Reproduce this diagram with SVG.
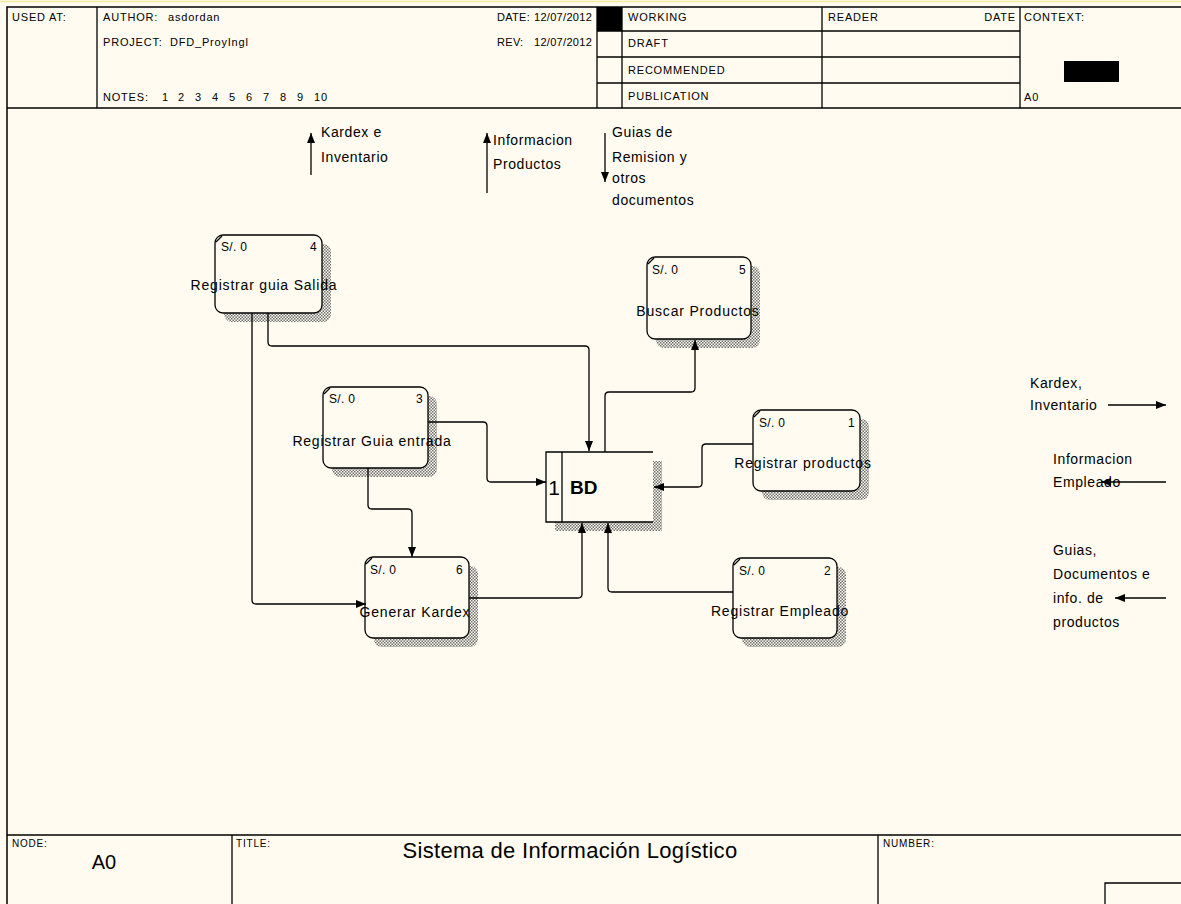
<svg xmlns="http://www.w3.org/2000/svg" width="1181" height="904" viewBox="0 0 1181 904">
<style>
.hdr{font-family:"Liberation Sans",Arial,sans-serif;font-size:11px;letter-spacing:0.8px;fill:#000}
.lbl{font-family:"Liberation Sans",Arial,sans-serif;font-size:14px;letter-spacing:0.8px;fill:#000}
.ext{font-family:"Liberation Sans",Arial,sans-serif;font-size:14px;letter-spacing:0.6px;fill:#000}
.sm{font-family:"Liberation Sans",Arial,sans-serif;font-size:12px;letter-spacing:0.3px;fill:#000}
.ln{stroke:#000;stroke-width:1.3;fill:none}
.frame{stroke:#000;stroke-width:1.5;fill:none}
.box{fill:#fffbf0;stroke:#000;stroke-width:1.3}
.shadow{fill:url(#hatch);stroke:none}
.conn{stroke:#000;stroke-width:1.3;fill:none;marker-end:url(#arr)}
</style>
<defs>
<pattern id="hatch" width="3" height="3" patternUnits="userSpaceOnUse">
<rect width="3" height="3" fill="#fffbf0"/>
<rect x="0" y="0" width="1.5" height="1.5" fill="#707070"/>
<rect x="1.5" y="1.5" width="1.5" height="1.5" fill="#707070"/>
</pattern>
<marker id="arr" markerWidth="11" markerHeight="8" refX="10" refY="4" orient="auto" markerUnits="userSpaceOnUse">
<path d="M0,0 L10,4 L0,8 z" fill="#000"/>
</marker>
</defs>
<rect width="1181" height="904" fill="#fffbf0"/>
<line x1="0" y1="1.5" x2="1181" y2="1.5" stroke="#f3ea9a" stroke-width="1.5"/>

<g id="header">
<path class="frame" d="M7,904 V7 H1182"/>
<line class="frame" x1="7" y1="108" x2="1182" y2="108"/>
<line class="ln" x1="97" y1="7" x2="97" y2="108"/>
<line class="ln" x1="597" y1="7" x2="597" y2="108"/>
<line class="ln" x1="622" y1="7" x2="622" y2="108"/>
<line class="ln" x1="822" y1="7" x2="822" y2="108"/>
<line class="ln" x1="1020" y1="7" x2="1020" y2="108"/>
<line class="ln" x1="597" y1="31" x2="1020" y2="31"/>
<line class="ln" x1="597" y1="57" x2="1020" y2="57"/>
<line class="ln" x1="597" y1="83" x2="1020" y2="83"/>
<rect x="597" y="7" width="25" height="24" fill="#000"/>
<rect x="1064" y="61" width="55" height="21" fill="#000"/>
<text class="hdr" x="12" y="21">USED AT:</text>
<text class="hdr" x="103" y="21">AUTHOR:<tspan x="168">asdordan</tspan></text>
<text class="hdr" x="103" y="46">PROJECT:<tspan x="170">DFD_ProyIngl</tspan></text>
<text class="hdr" x="103" y="101">NOTES:<tspan x="162">1</tspan><tspan x="178">2</tspan><tspan x="195">3</tspan><tspan x="212">4</tspan><tspan x="229">5</tspan><tspan x="246">6</tspan><tspan x="263">7</tspan><tspan x="280">8</tspan><tspan x="297">9</tspan><tspan x="314">10</tspan></text>
<text class="hdr" x="497" y="21" style="letter-spacing:0.3px">DATE:<tspan x="534">12/07/2012</tspan></text>
<text class="hdr" x="497" y="46" style="letter-spacing:0.3px">REV:<tspan x="534">12/07/2012</tspan></text>
<text class="hdr" x="628" y="21">WORKING</text>
<text class="hdr" x="628" y="47">DRAFT</text>
<text class="hdr" x="628" y="74">RECOMMENDED</text>
<text class="hdr" x="628" y="100">PUBLICATION</text>
<text class="hdr" x="828" y="21">READER</text>
<text class="hdr" x="1016" y="21" text-anchor="end">DATE</text>
<text class="hdr" x="1024" y="21">CONTEXT:</text>
<text class="hdr" x="1024" y="101">A0</text>
</g>

<g id="footer">
<line class="frame" x1="7" y1="835" x2="1182" y2="835"/>
<line class="ln" x1="232" y1="835" x2="232" y2="904"/>
<line class="ln" x1="878" y1="835" x2="878" y2="904"/>
<path class="ln" d="M1105,904 V883 H1182"/>
<text class="hdr" x="12" y="847" style="font-size:10px">NODE:</text>
<text class="hdr" x="236" y="847" style="font-size:10px">TITLE:</text>
<text class="hdr" x="883" y="847" style="font-size:10px">NUMBER:</text>
<text x="104" y="869" text-anchor="middle" style="font-family:'Liberation Sans',Arial,sans-serif;font-size:20px;fill:#000">A0</text>
<text x="570" y="858" text-anchor="middle" style="font-family:'Liberation Sans',Arial,sans-serif;font-size:22px;letter-spacing:0.3px;fill:#000">Sistema de Información Logístico</text>
</g>

<g id="ext-labels">
<text class="ext" x="321" y="137">Kardex e</text>
<text class="ext" x="321" y="162">Inventario</text>
<text class="ext" x="493" y="145">Informacion</text>
<text class="ext" x="493" y="169">Productos</text>
<text class="ext" x="612" y="137">Guias de</text>
<text class="ext" x="612" y="162">Remision y</text>
<text class="ext" x="612" y="183">otros</text>
<text class="ext" x="612" y="205">documentos</text>
<text class="ext" x="1030" y="388">Kardex,</text>
<text class="ext" x="1030" y="410">Inventario</text>
<text class="ext" x="1053" y="464">Informacion</text>
<text class="ext" x="1053" y="487">Empleado</text>
<text class="ext" x="1053" y="555">Guias,</text>
<text class="ext" x="1053" y="579">Documentos e</text>
<text class="ext" x="1053" y="603">info. de</text>
<text class="ext" x="1053" y="627">productos</text>
</g>

<g id="node4">
<rect class="shadow" x="224" y="244" width="107" height="78" rx="8"/>
<rect class="box" x="215" y="235" width="107" height="78" rx="8"/>
<path class="ln" d="M216,242 L222,236"/>
<text class="sm" x="221" y="251">S/. 0</text>
<text class="sm" x="317" y="251" text-anchor="end">4</text>
<text class="lbl" x="264" y="290" text-anchor="middle">Registrar guia Salida</text>
</g>

<g id="node3">
<rect class="shadow" x="332" y="396" width="105" height="81" rx="8"/>
<rect class="box" x="323" y="387" width="105" height="81" rx="8"/>
<path class="ln" d="M324,394 L330,388"/>
<text class="sm" x="329" y="403">S/. 0</text>
<text class="sm" x="423" y="403" text-anchor="end">3</text>
<text class="lbl" x="372" y="446" text-anchor="middle">Registrar Guia entrada</text>
</g>

<g id="node6">
<rect class="shadow" x="374" y="566" width="104" height="81" rx="8"/>
<rect class="box" x="365" y="557" width="104" height="81" rx="8"/>
<path class="ln" d="M366,564 L372,558"/>
<text class="sm" x="370" y="574">S/. 0</text>
<text class="sm" x="463" y="574" text-anchor="end">6</text>
<text class="lbl" x="415" y="617" text-anchor="middle">Generar Kardex</text>
</g>

<g id="node5">
<rect class="shadow" x="656" y="266" width="104" height="82" rx="8"/>
<rect class="box" x="647" y="257" width="104" height="82" rx="8"/>
<path class="ln" d="M648,264 L654,258"/>
<text class="sm" x="652" y="274">S/. 0</text>
<text class="sm" x="746" y="274" text-anchor="end">5</text>
<text class="lbl" x="698" y="316" text-anchor="middle">Buscar Productos</text>
</g>

<g id="node1">
<rect class="shadow" x="762" y="419" width="107" height="81" rx="8"/>
<rect class="box" x="753" y="410" width="107" height="81" rx="8"/>
<path class="ln" d="M754,417 L760,411"/>
<text class="sm" x="759" y="427">S/. 0</text>
<text class="sm" x="855" y="427" text-anchor="end">1</text>
<text class="lbl" x="803" y="468" text-anchor="middle">Registrar productos</text>
</g>

<g id="node2">
<rect class="shadow" x="742" y="567" width="104" height="80" rx="8"/>
<rect class="box" x="733" y="558" width="104" height="80" rx="8"/>
<path class="ln" d="M734,565 L740,559"/>
<text class="sm" x="739" y="575">S/. 0</text>
<text class="sm" x="831" y="575" text-anchor="end">2</text>
<text class="lbl" x="780" y="616" text-anchor="middle">Registrar Empleado</text>
</g>

<g id="store-BD">
<rect class="shadow" x="555" y="461" width="107" height="70"/>
<rect x="546" y="452" width="107" height="70" fill="#fffbf0"/>
<path class="ln" d="M653,452 H546 V522 H653"/>
<line class="ln" x1="562" y1="452" x2="562" y2="522"/>
<text x="554" y="495" text-anchor="middle" style="font-family:'Liberation Sans',Arial,sans-serif;font-size:21px;fill:#000">1</text>
<text x="570" y="494" style="font-family:'Liberation Sans',Arial,sans-serif;font-size:19px;font-weight:bold;fill:#000">BD</text>
</g>

<g id="connectors">
<path class="conn" d="M268,313 V342 Q268,346 272,346 H585 Q589,346 589,350 V451"/>
<path class="conn" d="M252,313 V600 Q252,604 256,604 H366"/>
<path class="conn" d="M428,422 H483 Q487,422 487,426 V478 Q487,482 491,482 H546"/>
<path class="conn" d="M368,468 V505 Q368,509 372,509 H408 Q412,509 412,513 V557"/>
<path class="conn" d="M469,598 H578 Q582,598 582,594 V523"/>
<path class="conn" d="M733,592 H612 Q608,592 608,588 V523"/>
<path class="conn" d="M605,452 V396 Q605,392 609,392 H691 Q695,392 695,388 V340"/>
<path class="conn" d="M753,444 H706 Q702,444 702,448 V483 Q702,487 698,487 H654"/>
<path class="conn" d="M311,175 V133"/>
<path class="conn" d="M487,193 V133"/>
<path class="conn" d="M605,133 V182"/>
<path class="conn" d="M1108,405 H1166"/>
<path class="conn" d="M1166,482 H1101"/>
<path class="conn" d="M1166,598 H1115"/>
</g>
</svg>
